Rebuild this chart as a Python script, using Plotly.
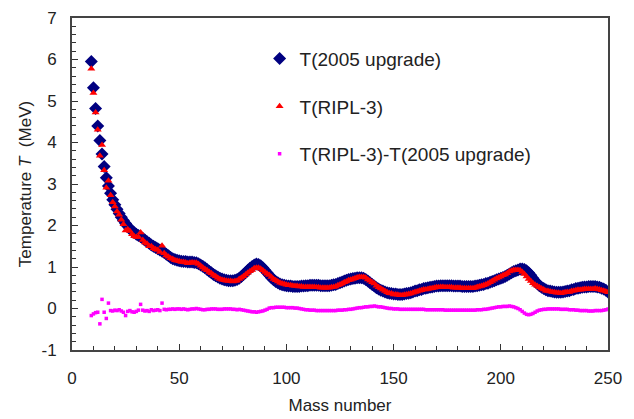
import plotly.graph_objects as go

# Mass numbers A = 9 ... 250
mass = list(range(9, 251))

# T(2005 upgrade), MeV, one value per mass number
t_2005 = [
    5.95, 5.32, 4.82, 4.40, 4.05, 3.72, 3.42, 3.15, 2.95, 2.78,
    2.62, 2.50, 2.39, 2.29, 2.20, 2.12, 2.05, 1.98, 1.92, 1.87,
    1.83, 1.79, 1.76, 1.73, 1.69, 1.65, 1.61, 1.57, 1.53, 1.50,
    1.47, 1.44, 1.41, 1.38, 1.35, 1.31, 1.27, 1.23, 1.20, 1.18,
    1.16, 1.15, 1.14, 1.13, 1.13, 1.12, 1.12, 1.12, 1.11, 1.10,
    1.08, 1.05, 1.02, 0.98, 0.94, 0.90, 0.86, 0.82, 0.79, 0.76,
    0.73, 0.71, 0.69, 0.68, 0.67, 0.67, 0.67, 0.68, 0.70, 0.73,
    0.77, 0.82, 0.87, 0.92, 0.97, 1.01, 1.05, 1.07, 1.06, 1.03,
    0.98, 0.92, 0.86, 0.80, 0.74, 0.69, 0.65, 0.62, 0.59, 0.57,
    0.56, 0.55, 0.54, 0.54, 0.53, 0.53, 0.53, 0.53, 0.54, 0.54,
    0.55, 0.55, 0.56, 0.56, 0.56, 0.56, 0.56, 0.55, 0.55, 0.55,
    0.55, 0.55, 0.56, 0.57, 0.58, 0.60, 0.62, 0.64, 0.66, 0.68,
    0.70, 0.71, 0.72, 0.73, 0.74, 0.74, 0.74, 0.73, 0.70, 0.66,
    0.62, 0.58, 0.54, 0.50, 0.47, 0.44, 0.42, 0.40, 0.38, 0.37,
    0.36, 0.35, 0.35, 0.34, 0.34, 0.34, 0.35, 0.36, 0.37, 0.38,
    0.40, 0.42, 0.43, 0.45, 0.46, 0.48, 0.49, 0.50, 0.51, 0.52,
    0.53, 0.54, 0.54, 0.55, 0.55, 0.55, 0.55, 0.55, 0.55, 0.54,
    0.54, 0.54, 0.54, 0.53, 0.53, 0.53, 0.53, 0.53, 0.53, 0.54,
    0.55, 0.56, 0.57, 0.58, 0.60, 0.61, 0.63, 0.65, 0.67, 0.69,
    0.71, 0.73, 0.75, 0.77, 0.80, 0.83, 0.86, 0.89, 0.91, 0.93,
    0.95, 0.95, 0.94, 0.91, 0.86, 0.80, 0.73, 0.66, 0.60, 0.55,
    0.51, 0.48, 0.45, 0.43, 0.42, 0.41, 0.40, 0.39, 0.39, 0.39,
    0.40, 0.41, 0.42, 0.43, 0.45, 0.46, 0.48, 0.49, 0.50, 0.51,
    0.52, 0.52, 0.53, 0.53, 0.53, 0.53, 0.52, 0.51, 0.49, 0.47,
    0.44, 0.40,
]

# T(RIPL-3) - T(2005 upgrade), MeV
t_diff = [
    -0.17, -0.13, -0.10, -0.09, -0.37, 0.22, -0.09, -0.24, 0.13, -0.05,
    -0.06, -0.04, -0.05, -0.03, -0.06, -0.09, -0.17, -0.07, -0.05, -0.08,
    -0.09, -0.07, -0.04, 0.10, -0.04, -0.06, -0.05, -0.07, -0.03, -0.05,
    -0.04, -0.03, -0.05, 0.13, -0.02, -0.03, -0.02,
    -0.02, -0.01, -0.02, -0.01, -0.01, -0.02, -0.01, -0.02, -0.03, -0.02,
    -0.01, -0.01, 0.00, -0.01, -0.02, -0.03, -0.03, -0.02, -0.02, -0.01,
    -0.01, -0.01, -0.02, -0.02, -0.02, -0.01, -0.01, -0.01, -0.01, -0.02,
    -0.02, -0.03, -0.02, -0.03, -0.04,
    -0.05, -0.06, -0.07, -0.08, -0.08, -0.09, -0.08, -0.07, -0.06, -0.04, -0.02,
    0.01, 0.02, 0.02, 0.03, 0.03, 0.03, 0.03, 0.03, 0.02, 0.02, 0.02, 0.02, 0.01, 0.01, 0.00,
    -0.01, -0.02, -0.03, -0.03, -0.04, -0.04, -0.04, -0.05, -0.05, -0.05,
    -0.05, -0.05, -0.05, -0.05, -0.05, -0.05, -0.05, -0.04, -0.04, -0.04,
    -0.03, -0.03, -0.02, -0.02, -0.01, 0.00, 0.01,
    0.02, 0.02, 0.03, 0.04, 0.04, 0.05, 0.05, 0.06, 0.05, 0.04, 0.04, 0.03, 0.02,
    0.01, 0.00, 0.00, -0.01, -0.01, -0.01, -0.02, -0.02, -0.02, -0.02,
    -0.02, -0.02, -0.02, -0.02, -0.02, -0.02, -0.02, -0.02, -0.03, -0.03,
    -0.03, -0.03, -0.03, -0.03, -0.03, -0.03, -0.03, -0.04, -0.04, -0.04,
    -0.04, -0.04, -0.04, -0.04, -0.04, -0.04, -0.04, -0.04, -0.04, -0.04,
    -0.04, -0.04, -0.03, -0.03, -0.03, -0.02, -0.02,
    -0.01, 0.00, 0.01, 0.02, 0.03, 0.04, 0.04, 0.05, 0.05, 0.05, 0.06, 0.05, 0.04, 0.02, 0.00,
    -0.03, -0.07, -0.11, -0.14, -0.15, -0.14, -0.12, -0.09, -0.06,
    -0.04, -0.03, -0.02, -0.02, -0.01, -0.01, -0.01, -0.01, -0.01, -0.01,
    -0.02, -0.02, -0.02, -0.02, -0.03, -0.03, -0.03,
    -0.04, -0.04, -0.05, -0.05, -0.05, -0.05, -0.06, -0.06, -0.06, -0.05,
    -0.05, -0.05, -0.05, -0.04, -0.03, -0.01,
]

assert len(mass) == len(t_2005) == len(t_diff)

# T(RIPL-3) follows from the two series above (the third series is defined as their difference)
t_ripl = [round(a + d, 3) for a, d in zip(t_2005, t_diff)]

names = ["T(2005 upgrade)", "T(RIPL-3)", "T(RIPL-3)-T(2005 upgrade)"]

# Tick labels (plain hyphen minus, as in the original)
y_tick_vals = [-1, 0, 1, 2, 3, 4, 5, 6, 7]
y_tick_text = ["-1", "0", "1", "2", "3", "4", "5", "6", "7"]
x_tick_vals = [0, 50, 100, 150, 200, 250]
x_tick_text = ["0", "50", "100", "150", "200", "250"]

fig = go.Figure()
fig.add_trace(go.Scatter(
    x=mass, y=t_2005, mode="markers", name=names[0], legendgroup="a",
    marker=dict(symbol="diamond", size=10, color="#000080", line=dict(width=0)),
))
fig.add_trace(go.Scatter(
    x=mass, y=t_ripl, mode="markers", name=names[1], legendgroup="b",
    marker=dict(symbol="triangle-up", size=7, color="#FF0000", line=dict(width=0)),
))
fig.add_trace(go.Scatter(
    x=mass, y=t_diff, mode="markers", name=names[2], legendgroup="c",
    marker=dict(symbol="square", size=3.5, color="#FF00FF", line=dict(width=0)),
))

axis_common = dict(
    showgrid=False, zeroline=False, automargin=False,
    showline=True, linecolor="#444444", linewidth=2, mirror=True,
    ticks="inside", ticklen=6, tickwidth=1, tickcolor="#333333",
    tickfont=dict(size=17, color="#222222"),
)

fig.update_xaxes(
    range=[0, 250], tickmode="array", tickvals=x_tick_vals, ticktext=x_tick_text,
    minor=dict(ticks="inside", tick0=0, dtick=10, ticklen=4, tickcolor="#333333"),
    ticklabelstandoff=12,
    title=dict(text="Mass number", font=dict(size=17, color="#222222"), standoff=12),
    **axis_common,
)
fig.update_yaxes(
    range=[-1, 7], tickmode="array", tickvals=y_tick_vals, ticktext=y_tick_text,
    minor=dict(ticks="inside", tick0=0, dtick=0.2, ticklen=4, tickcolor="#333333"),
    ticklabelstandoff=10,
    title=dict(text="Temperature <i>T</i>  (MeV)", font=dict(size=17, color="#222222"), standoff=6),
    **axis_common,
)

fig.update_layout(
    width=634, height=419,
    margin=dict(l=72, r=26, t=18, b=69),
    plot_bgcolor="white", paper_bgcolor="white",
    font=dict(family="Liberation Sans, Arial, sans-serif", size=17, color="#222222"),
    legend=dict(
        x=0.35, y=0.935, xanchor="left", yanchor="top",
        bgcolor="rgba(0,0,0,0)", borderwidth=0,
        font=dict(size=19, color="#222222"),
        tracegroupgap=20, itemsizing="trace",
    ),
)

fig.write_html("out.html")
